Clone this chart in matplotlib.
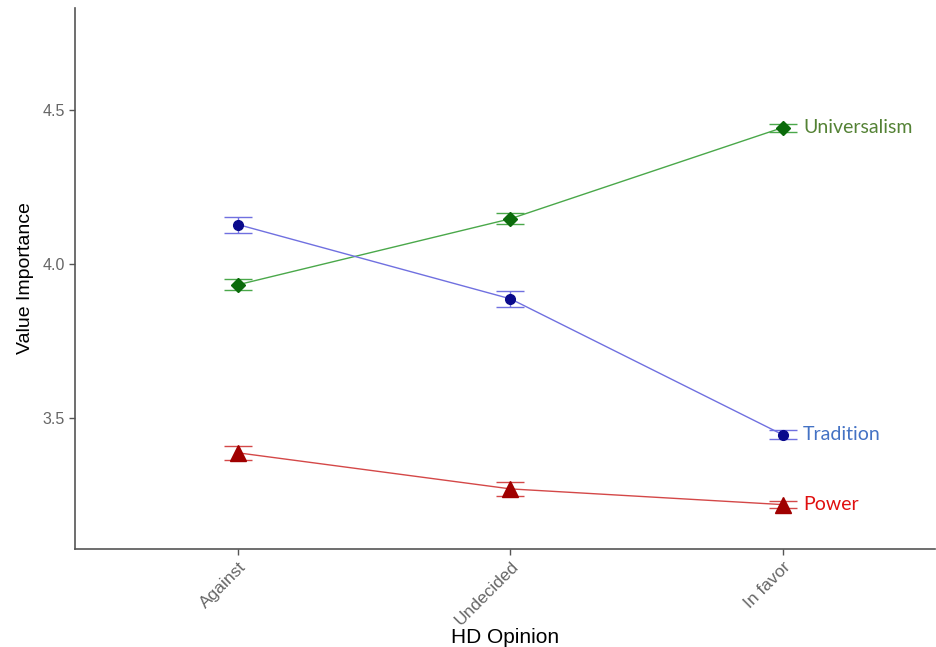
import numpy as np
import matplotlib
matplotlib.use("Agg")
import matplotlib.pyplot as plt

plt.rcParams["font.family"] = ["Liberation Sans", "DejaVu Sans"]

# data
categories = ["Against", "Undecided", "In favor"]
universalism = [3.932, 4.146, 4.442]
universalism_se = [0.018, 0.018, 0.013]
tradition = [4.127, 3.886, 3.445]
tradition_se = [0.026, 0.026, 0.015]
power = [3.386, 3.269, 3.218]
power_se = [0.023, 0.023, 0.011]

series = [
    # name, values, se, line colour, marker colour, marker, size, label colour
    ("Universalism", universalism, universalism_se, "#4aa84a", "#0b6b0b", "D", 7.5, "#548235"),
    ("Tradition", tradition, tradition_se, "#7070e0", "#0a0a8c", "o", 7, "#4472c4"),
    ("Power", power, power_se, "#d44848", "#a00000", "^", 11, "#e01010"),
]

fig = plt.figure(figsize=(9.37, 6.47), dpi=100)
ax = fig.add_axes([0.080, 0.152, 0.918, 0.836])

x = np.arange(1, len(categories) + 1)
for name, vals, se, lc, mc, mk, ms, tc in series:
    ax.errorbar(x, vals, yerr=se, color=lc, lw=1.0, capsize=10, capthick=1.0,
                elinewidth=1.0, marker=mk, ms=ms, mfc=mc, mec=mc, zorder=3)
    ax.text(x[-1] + 0.075, vals[-1], name, color=tc, fontsize=14,
            family="Lato", va="center", ha="left")

ax.set_xlim(0.40, 3.56)
ax.set_ylim(3.075, 4.831)
ax.set_xticks(x)
ax.set_xticklabels(categories, rotation=45, ha="right", rotation_mode="anchor",
                   fontsize=12.5)
ax.set_yticks([3.5, 4.0, 4.5])
ax.set_yticklabels(["3.5", "4.0", "4.5"], fontsize=11.5)
ax.tick_params(axis="both", colors="#555555", length=4, width=1.0, labelcolor="#666666")

for side in ["top", "right"]:
    ax.spines[side].set_visible(False)
for side in ["left", "bottom"]:
    ax.spines[side].set_color("#555555")
    ax.spines[side].set_linewidth(1.2)

ax.set_xlabel("HD Opinion", fontsize=15, color="black", labelpad=0)
ax.set_ylabel("Value Importance", fontsize=14, color="black", labelpad=6)

fig.savefig("out.png", dpi=100)
